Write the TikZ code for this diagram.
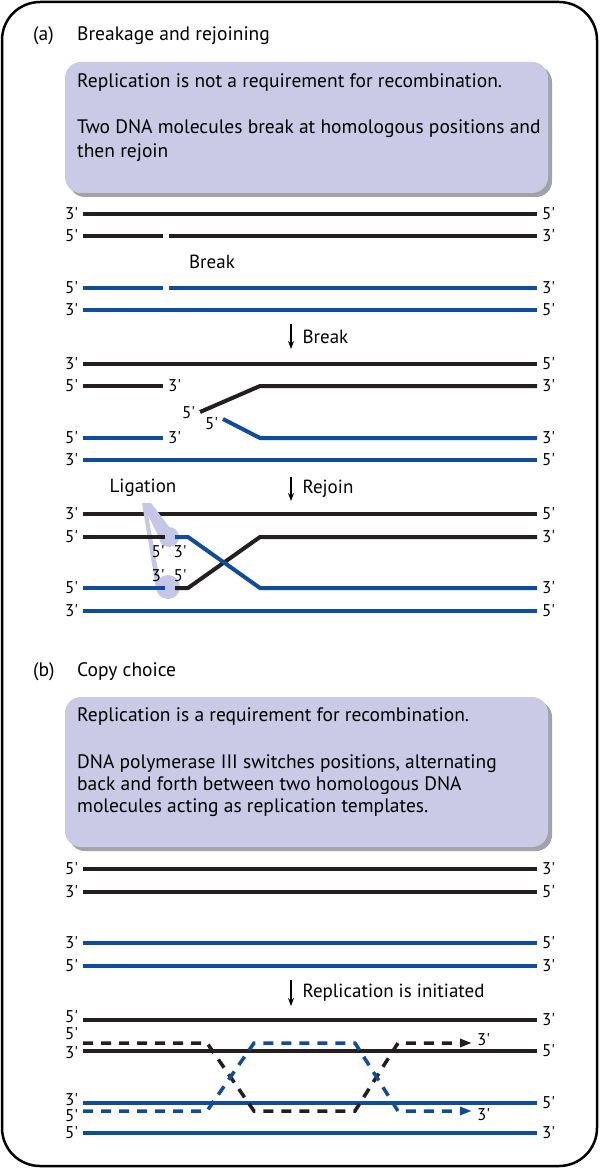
\documentclass[tikz,border=0pt]{standalone}
\usepackage{fontspec}
\setmainfont{PT Sans}
\usetikzlibrary{arrows.meta}
\definecolor{dnablue}{HTML}{0D4C9E}
\definecolor{dnablack}{HTML}{231F20}
\definecolor{notefill}{HTML}{C8CAE6}
\definecolor{noteshade}{HTML}{A2A2A8}
\definecolor{ligfill}{HTML}{C4C7E7}
\newcommand{\pr}{\textquotesingle}

\begin{document}
\begin{tikzpicture}[x=1pt, y=-1pt,
    blk/.style={draw=dnablack, line width=4pt},
    blu/.style={draw=dnablue, line width=4pt},
    blkdash/.style={draw=dnablack, line width=3.5pt, dash pattern=on 10pt off 8pt},
    bludash/.style={draw=dnablue, line width=3.5pt, dash pattern=on 10pt off 8pt},
    tip/.style={-{Triangle[length=12pt, width=8pt]}},
    down/.style={line width=1.2pt, -{Stealth[length=8pt, width=6pt]}},
    prime/.style={font=\fontsize{17}{17}\selectfont, inner sep=0pt, outer xsep=5pt, text height=11.5pt, text depth=0pt},
    lab/.style={font=\fontsize{19}{20}\selectfont, inner sep=0pt},
    note/.style={font=\fontsize{19.5}{22}\selectfont, inner sep=0pt},
    ligdot/.style={circle, fill=ligfill, inner sep=0pt}]
	\useasboundingbox (0,0) rectangle (600,1169);
	\draw[line width=2.5pt, rounded corners=38pt] (2,2) rectangle (597,1166);

	% (a) breakage and rejoining
	\node[note, anchor=base west] (ha) at (33,41) {(a)};
	\node[note, anchor=base west] (ta) at (77,41) {Breakage and rejoining};
	\fill[noteshade, rounded corners=16pt] (69,66) rectangle (552,197);
	\fill[notefill, rounded corners=16pt] (65,62) rectangle (548,193);
	\foreach \t/\y [count=\i] in {{Replication is not a requirement for recombination.}/88,
	    {Two DNA molecules break at homologous positions and}/134, {then rejoin}/158}
		\node[note, anchor=base west] (na\i) at (77,\y) {\t};

	% whole strands
	\foreach \y/\s/\l/\r/\o [count=\i] in {214/blk/3/5/0, 310/blu/3/5/0, 364/blk/3/5/0, 460/blu/3/5/0,
	    514/blk/3/5/0, 611/blu/3/5/0, 869/blk/5/3/0, 892/blk/3/5/0, 943/blu/3/5/0, 966/blu/5/3/0,
	    1020/blk/5/3/-3, 1051/blk/3/5/2, 1103/blu/3/5/-3, 1133/blu/5/3/0} {
		\node[prime, anchor=east] (l\i) at (83,\y+\o) {\l\pr};
		\node[prime, anchor=west] (r\i) at (537,\y) {\r\pr};
		\draw[\s] (l\i.east |- r\i) -- (r\i);
	}

	% before the break
	\node[prime, anchor=east] (m1) at (83,236) {5\pr};
	\node[prime, anchor=west] (n1) at (537,236) {3\pr};
	\node[prime, anchor=east] (m2) at (83,288) {5\pr};
	\node[prime, anchor=west] (n2) at (537,288) {3\pr};
	\coordinate (g1) at (163,236); \coordinate (g2) at (169,236);
	\coordinate (g3) at (163,288); \coordinate (g4) at (169,288);
	\draw[blk] (m1) -- (g1) (g2) -- (n1);
	\draw[blu] (m2) -- (g3) (g4) -- (n2);
	\node[lab] (brk) at (212,262) {Break};
	\coordinate (s1) at (291,324); \coordinate (t1) at (291,349);
	\draw[down] (s1) to node[lab, right=11pt] (brk2) {Break} (t1);

	% after the break
	\node[prime, anchor=east] (m3) at (83,386) {5\pr};
	\node[prime, anchor=west] (k1) at (163,386) {3\pr};
	\draw[blk] (m3) -- (k1);
	\node[prime, anchor=east] (q1) at (200,413) {5\pr};
	\node[prime, anchor=west] (n3) at (537,386) {3\pr};
	\draw[blk] ([yshift=1pt]q1.east) -- (260,386) -- (n3);
	\node[prime, anchor=east] (m4) at (83,438) {5\pr};
	\node[prime, anchor=west] (k2) at (163,438) {3\pr};
	\draw[blu] (m4) -- (k2);
	\node[prime, anchor=east] (q2) at (223,424) {5\pr};
	\node[prime, anchor=west] (n4) at (537,438) {3\pr};
	\draw[blu] ([yshift=5pt]q2.east) -- (260,438) -- (n4);
	\coordinate (s2) at (291,477); \coordinate (t2) at (291,501);
	\draw[down] (s2) to node[lab, right=11pt] (rej) {Rejoin} (t2);

	% rejoined
	\node[lab] (lig) at (143,488) {Ligation};
	\node[ligdot, minimum size=20pt] (c1) at (169,537) {};
	\node[ligdot, minimum size=24pt] (c2) at (168,587) {};
	\fill[ligfill] (142,503) -- (151,503) -- (c1.north) -- (c1.west) -- cycle;
	\fill[ligfill] (142,503) -- (146,503) -- (c2.north west) -- (c2.west) -- cycle;
	\node[prime, anchor=east] (m5) at (83,537) {5\pr};
	\node[prime, anchor=east] (m6) at (83,588) {5\pr};
	\node[prime, anchor=west] (n5) at (537,537) {3\pr};
	\node[prime, anchor=west] (n6) at (537,588) {3\pr};
	\coordinate (j1) at (165,537); \coordinate (j2) at (165,588);
	\coordinate (j3) at (175,537); \coordinate (j4) at (175,588);
	\draw[blk] (m5) -- (j1);
	\draw[blu] (m6) -- (j2);
	\draw[blk] (j4) -- (188,588) -- (260,537) -- (n5);
	\draw[blu] (j3) -- (188,537) -- (260,588) -- (n6);
	\node[prime] (x1) at (158,552) {5\pr};
	\node[prime] (x2) at (180,552) {3\pr};
	\node[prime] (x3) at (158,576) {3\pr};
	\node[prime] (x4) at (180,576) {5\pr};

	% (b) copy choice
	\node[note, anchor=base west] (hb) at (33,676) {(b)};
	\node[note, anchor=base west] (tb) at (77,676) {Copy choice};
	\fill[noteshade, rounded corners=16pt] (69,701) rectangle (552,851);
	\fill[notefill, rounded corners=16pt] (65,697) rectangle (548,847);
	\foreach \t/\y [count=\i] in {{Replication is a requirement for recombination.}/721,
	    {DNA polymerase III switches positions, alternating}/768,
	    {back and forth between two homologous DNA}/790,
	    {molecules acting as replication templates.}/812}
		\node[note, anchor=base west] (nb\i) at (77,\y) {\t};
	\coordinate (s3) at (291,980); \coordinate (t3) at (291,1006);
	\draw[down] (s3) to node[lab, right=11pt] (ini) {Replication is initiated} (t3);

	% new strands
	\node[prime, anchor=east] (p1) at (83,1034) {5\pr};
	\node[prime, anchor=east] (p2) at (83,1116) {5\pr};
	\node[prime, anchor=west] (e1) at (472,1040) {3\pr};
	\node[prime, anchor=west] (e2) at (472,1115) {3\pr};
	\coordinate (d1) at (83,1043); \coordinate (d2) at (83,1111);
	\draw[blkdash, tip] (d1) -- (207,1043) -- (254,1111) -- (355,1111) -- (398,1043) -- (e1.west |- d1);
	\draw[bludash, tip] (d2) -- (207,1111) -- (254,1043) -- (355,1043) -- (398,1111) -- (e2.west |- d2);
\end{tikzpicture}
\end{document}
